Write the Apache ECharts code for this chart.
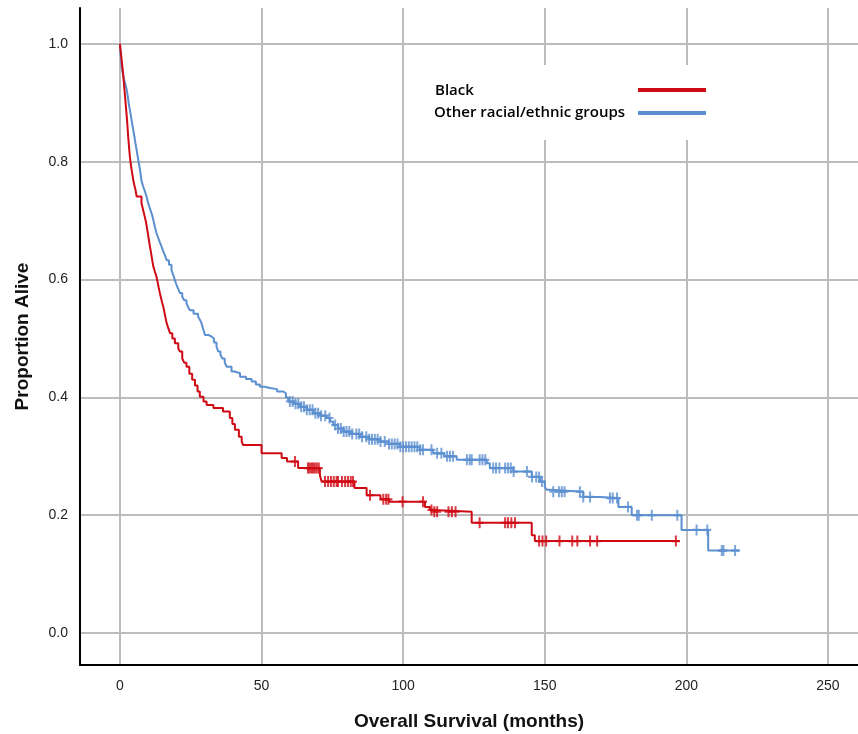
<!DOCTYPE html>
<html>
<head>
<meta charset="utf-8">
<script src="https://cdn.jsdelivr.net/npm/echarts@6/dist/echarts.min.js"></script>
<style>
  html, body { margin: 0; padding: 0; background: #fff; }
  #km-chart { width: 858px; height: 734px; }
</style>
</head>
<body>
<div id="km-chart"></div>
<script>
const xTicks = [0, 50, 100, 150, 200, 250]
const yTicks = [0, 0.2, 0.4, 0.6, 0.8, 1.0]

// Black: [months, proportion alive after the step]
const blackCurve = [
  [0, 1.0], [0.2, 0.99], [0.4, 0.982], [0.6, 0.973], [0.8, 0.964], [1.0, 0.955], [1.2, 0.945],
  [1.4, 0.934], [1.6, 0.922], [1.8, 0.911], [2.0, 0.9], [2.2, 0.888], [2.4, 0.877], [2.6, 0.865],
  [2.9, 0.843], [3.1, 0.832], [3.3, 0.82], [3.5, 0.809], [3.8, 0.797], [4.1, 0.787], [4.4, 0.778],
  [4.7, 0.769], [5.1, 0.76], [5.5, 0.752], [5.9, 0.741], [7.6, 0.73], [8.0, 0.722], [8.4, 0.714],
  [8.8, 0.706], [9.1, 0.70], [9.4, 0.692], [9.8, 0.68], [10.2, 0.668], [10.6, 0.656], [11.0, 0.645],
  [11.4, 0.633], [11.8, 0.622], [12.3, 0.614], [12.9, 0.605], [13.3, 0.596], [13.7, 0.586],
  [14.1, 0.577], [14.5, 0.569], [14.9, 0.561], [15.3, 0.554], [15.7, 0.545], [16.1, 0.535],
  [16.5, 0.526], [17.1, 0.517], [17.7, 0.509], [18.5, 0.50], [19.4, 0.492], [20.6, 0.483],
  [21.2, 0.478], [22.0, 0.466], [22.7, 0.459], [23.5, 0.452], [24.5, 0.44], [25.5, 0.43],
  [26.5, 0.42], [27.4, 0.41], [28.2, 0.401], [29.5, 0.393], [30.6, 0.387], [33.0, 0.382],
  [36.4, 0.376], [38.8, 0.365], [39.7, 0.355], [40.6, 0.345], [42.0, 0.333], [43.0, 0.325],
  [43.5, 0.319], [50.0, 0.305], [57.1, 0.297], [59.0, 0.291], [62.9, 0.28], [70.6, 0.268],
  [71.2, 0.257], [82.8, 0.246], [87.1, 0.234], [92.0, 0.227], [95.0, 0.223], [107.7, 0.214],
  [109.5, 0.209], [110.6, 0.206], [124.2, 0.187], [145.4, 0.166], [146.5, 0.156], [197.7, 0.156]
]
const blackCensored = [
  61.8, 66.4, 67.0, 67.6, 68.2, 68.8, 69.5, 70.2, 72.4, 73.5, 74.5, 75.5, 76.5, 77.0,
  78.4, 79.5, 80.5, 81.5, 82.3, 88.3, 93.0, 94.0, 94.8, 99.8, 107.0, 110.0, 111.0, 112.0,
  116.0, 117.2, 118.5, 127.0, 136.0, 137.0, 138.2, 139.5, 148.0, 149.2, 150.5, 155.2,
  159.7, 161.5, 166.0, 168.5, 196.3
]

// Other racial/ethnic groups
const otherCurve = [
  [0, 1.0], [0.2, 0.985], [0.4, 0.972], [0.6, 0.962], [0.9, 0.953], [1.2, 0.945], [1.6, 0.937],
  [2.0, 0.93], [2.4, 0.922], [2.8, 0.91], [3.1, 0.899], [3.5, 0.888], [3.9, 0.877], [4.3, 0.865],
  [4.7, 0.854], [5.1, 0.843], [5.5, 0.831], [5.9, 0.82], [6.3, 0.808], [6.7, 0.797], [7.1, 0.786],
  [7.6, 0.768], [8.2, 0.758], [8.8, 0.75], [9.4, 0.741], [9.9, 0.731], [10.5, 0.722], [11.2, 0.712],
  [11.8, 0.701], [12.3, 0.69], [12.9, 0.679], [13.5, 0.671], [14.1, 0.663], [14.7, 0.656],
  [15.3, 0.648], [15.9, 0.641], [16.5, 0.633], [17.3, 0.625], [18.2, 0.616], [18.8, 0.608],
  [19.4, 0.599], [19.9, 0.592], [20.5, 0.585], [21.2, 0.577], [22.0, 0.571], [22.7, 0.565],
  [23.5, 0.56], [24.1, 0.553], [24.7, 0.548], [26.0, 0.542], [27.6, 0.537], [28.2, 0.532],
  [28.8, 0.526], [29.4, 0.516], [30.0, 0.506], [31.2, 0.503], [32.4, 0.50], [33.2, 0.493],
  [34.1, 0.486], [34.7, 0.478], [35.5, 0.472], [36.2, 0.466], [37.0, 0.459], [37.7, 0.452],
  [39.4, 0.444], [40.5, 0.441], [42.4, 0.435], [44.5, 0.431], [46.5, 0.427], [48.0, 0.422],
  [49.4, 0.418], [51.0, 0.416], [53.0, 0.414], [55.5, 0.41], [57.7, 0.407], [58.6, 0.40],
  [59.4, 0.393], [61.5, 0.389], [63.6, 0.384], [66.0, 0.379], [68.3, 0.373], [70.5, 0.369],
  [73.0, 0.365], [74.2, 0.359], [75.3, 0.353], [77.0, 0.347], [78.9, 0.342], [81.5, 0.338],
  [84.7, 0.333], [88.0, 0.329], [91.8, 0.325], [95.0, 0.321], [98.9, 0.316], [105.9, 0.311],
  [110.6, 0.305], [114.5, 0.30], [118.9, 0.294], [129.5, 0.288], [130.6, 0.28], [138.9, 0.274],
  [145.4, 0.265], [148.3, 0.257], [150.0, 0.248], [150.7, 0.243], [151.5, 0.24], [163.6, 0.231],
  [169.5, 0.229], [176.0, 0.214], [180.7, 0.2], [198.3, 0.175], [207.7, 0.14], [218.9, 0.14]
]
const otherCensored = [
  60, 61, 62, 63, 64, 65, 66, 67, 68, 69, 70, 71, 72.5, 74, 76, 77, 78, 79, 80, 81, 82,
  83.5, 84.5, 85.5, 87, 88, 89, 90, 91, 92, 93.5, 95, 96, 97, 98, 99, 100, 101, 102, 103,
  104, 105, 106, 107, 110, 112, 113.5, 115.5, 116.5, 117.6, 122.5, 123.5, 124.2, 127, 128,
  129, 131.8, 132.8, 134, 136, 137, 138, 139, 143.7, 145.5, 147, 148, 149, 153, 155, 156,
  157, 162.4, 163.6, 166, 173, 174, 175.5, 179.4, 182.6, 183.2, 187.8, 196.8, 203.6,
  207.4, 212.5, 213.1, 217.2
]

const RED = '#cf0a14'
const BLUE = '#5b8fd0'
const plusPath = 'path://M3,0H5V4H8V6H5V10H3V6H0V4H3Z'

// survival value at time t on a step curve
function survivalAt(curve, t) {
  let s = curve[0][1]
  for (let i = 0; i < curve.length; i++) {
    if (curve[i][0] <= t) s = curve[i][1]
    else break
  }
  return s
}

function censorPoints(curve, times) {
  return times.map(t => [t, survivalAt(curve, t)])
}

const labelFont = { fontFamily: 'Liberation Sans Narrow, Liberation Sans, Arial', fontSize: 14, color: '#222' }
const nameFont = { fontFamily: 'Liberation Sans, Arial', fontSize: 19, fontWeight: 'bold', color: '#111' }

const option = {
  animation: false,
  grid: { left: 80, right: 0, top: 8, bottom: 69, outerBoundsMode: 'none' },
  xAxis: {
    type: 'value',
    min: -14.1,
    max: 260.6,
    name: 'Overall Survival (months)',
    nameLocation: 'middle',
    nameGap: 47,
    nameTextStyle: nameFont,
    axisLine: { show: true, onZero: false, lineStyle: { color: '#000', width: 2 } },
    axisTick: { show: false, customValues: xTicks },
    axisLabel: { customValues: xTicks, margin: 14, ...labelFont },
    splitLine: { show: true, lineStyle: { color: '#bcbcbc', width: 2 } }
  },
  yAxis: {
    type: 'value',
    min: -0.0543,
    max: 1.061,
    name: 'Proportion Alive',
    nameLocation: 'middle',
    nameGap: 48,
    nameTextStyle: nameFont,
    axisLine: { show: true, onZero: false, lineStyle: { color: '#000', width: 2 } },
    axisTick: { show: false, customValues: yTicks },
    axisLabel: { customValues: yTicks, margin: 12, formatter: v => v.toFixed(1), ...labelFont },
    splitLine: { show: true, lineStyle: { color: '#bcbcbc', width: 2 } }
  },
  graphic: [
    { type: 'rect', z: 100, shape: { x: 415, y: 65, width: 305, height: 75 }, style: { fill: '#fff' } },
    { type: 'text', z: 101, x: 435, y: 91, style: { text: 'Black', fill: '#000', font: '600 15px Open Sans, Liberation Sans', textVerticalAlign: 'middle' } },
    { type: 'text', z: 101, x: 434, y: 113, style: { text: 'Other racial/ethnic groups', fill: '#000', font: '600 15px Open Sans, Liberation Sans', textVerticalAlign: 'middle' } },
    { type: 'line', z: 101, shape: { x1: 638, y1: 90, x2: 706, y2: 90 }, style: { stroke: RED, lineWidth: 4 } },
    { type: 'line', z: 101, shape: { x1: 638, y1: 113, x2: 706, y2: 113 }, style: { stroke: BLUE, lineWidth: 4 } }
  ],
  series: [
    {
      name: 'Other racial/ethnic groups',
      type: 'line',
      step: 'end',
      data: otherCurve,
      showSymbol: false,
      lineStyle: { color: BLUE, width: 2 },
      z: 3
    },
    {
      name: 'Other censored',
      type: 'scatter',
      data: censorPoints(otherCurve, otherCensored),
      symbol: plusPath,
      symbolSize: [8, 11],
      itemStyle: { color: BLUE },
      z: 3
    },
    {
      name: 'Black',
      type: 'line',
      step: 'end',
      data: blackCurve,
      showSymbol: false,
      lineStyle: { color: RED, width: 2 },
      z: 4
    },
    {
      name: 'Black censored',
      type: 'scatter',
      data: censorPoints(blackCurve, blackCensored),
      symbol: plusPath,
      symbolSize: [8, 11],
      itemStyle: { color: RED },
      z: 4
    }
  ]
}

const myChart = echarts.init(document.getElementById('km-chart'))
option && myChart.setOption(option)
</script>
</body>
</html>
